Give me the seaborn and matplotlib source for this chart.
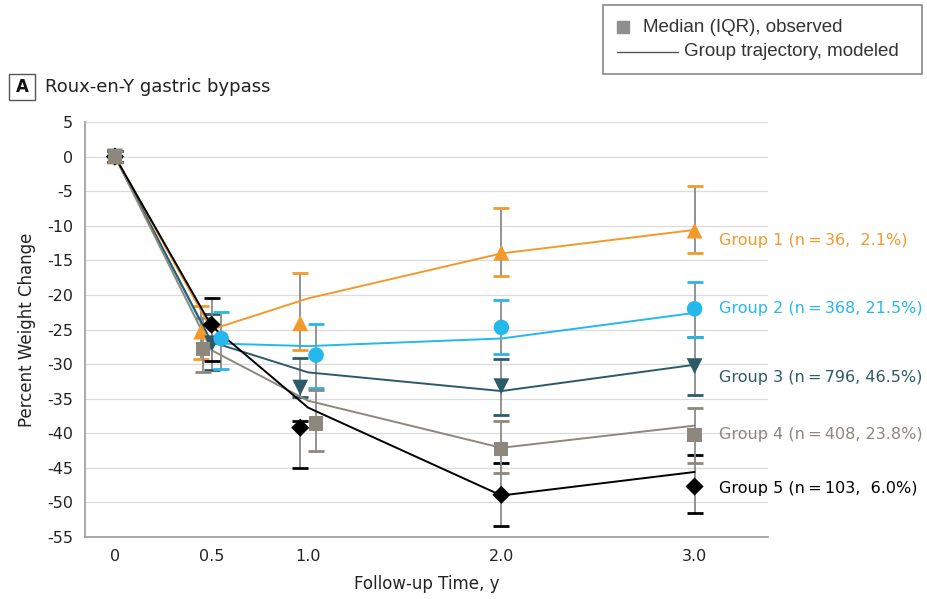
import matplotlib
matplotlib.use("Agg")
import matplotlib.pyplot as plt
import seaborn as sns
import pandas as pd
from matplotlib.patches import Rectangle
from matplotlib.lines import Line2D

# ---- data -------------------------------------------------------------
groups = ["Group 1", "Group 2", "Group 3", "Group 4", "Group 5"]
group_n = [36, 368, 796, 408, 103]
group_pct = [2.1, 21.5, 46.5, 23.8, 6.0]

obs_time = [0, 0.5, 1.0, 2.0, 3.0]
# observed medians and interquartile limits (upper / lower)
median_g1 = [0, -25.3, -24.1, -13.9, -10.7]
upper_g1 = [0.8, -21.6, -16.9, -7.4, -4.2]
lower_g1 = [-0.8, -29.3, -27.9, -17.3, -14.0]

median_g2 = [0, -26.3, -28.7, -24.7, -22.0]
upper_g2 = [0.8, -22.5, -24.2, -20.7, -18.1]
lower_g2 = [-0.8, -30.7, -33.5, -28.5, -26.1]

median_g3 = [0, -27.0, -33.4, -33.2, -30.3]
upper_g3 = [0.8, -22.8, -29.1, -29.3, -26.1]
lower_g3 = [-0.8, -30.8, -34.8, -37.4, -34.5]

median_g4 = [0, -27.8, -38.6, -42.3, -40.2]
upper_g4 = [0.8, -23.3, -33.8, -38.2, -36.3]
lower_g4 = [-0.8, -31.1, -42.6, -45.7, -44.3]

median_g5 = [0, -24.3, -39.2, -48.9, -47.7]
upper_g5 = [0.8, -20.5, -38.2, -44.3, -43.2]
lower_g5 = [-0.8, -29.5, -45.0, -53.4, -51.6]

# modeled group trajectories
model_time = [0, 0.5, 1.0, 2.0, 3.0]
model_g1 = [0, -25.0, -20.5, -14.0, -10.6]
model_g2 = [0, -27.0, -27.4, -26.3, -22.6]
model_g3 = [0, -26.8, -31.2, -33.9, -30.1]
model_g4 = [0, -28.0, -35.3, -42.1, -38.9]
model_g5 = [0, -24.5, -36.3, -49.0, -45.6]

x_ticks = [0, 0.5, 1.0, 1.5, 2.0, 2.5, 3.0]
x_ticklabels = ["0", "0.5", "1.0", "", "2.0", "", "3.0"]
y_ticks = list(range(-55, 10, 5))

# ---- styling ----------------------------------------------------------
sns.set_theme(style="white")
plt.rcParams["font.family"] = ["DejaVu Sans"]
plt.rcParams["axes.unicode_minus"] = False

colors = ["#F3992A", "#25B8EC", "#2D5A69", "#8E877D", "#000000"]
markers = ["^", "o", "v", "s", "D"]
msizes = [130, 125, 130, 105, 85]
palette = dict(zip(groups, colors))
marker_map = dict(zip(groups, markers))

# horizontal dodge of the observed summaries at each visit
dodge = {
    "Group 1": [0, -0.054, -0.041, 0, 0],
    "Group 2": [0, 0.050, 0.041, 0, 0],
    "Group 3": [0, 0.003, -0.041, 0, 0],
    "Group 4": [0, -0.044, 0.041, 0, 0],
    "Group 5": [0, 0.000, -0.041, 0, 0],
}

medians = [median_g1, median_g2, median_g3, median_g4, median_g5]
uppers = [upper_g1, upper_g2, upper_g3, upper_g4, upper_g5]
lowers = [lower_g1, lower_g2, lower_g3, lower_g4, lower_g5]
models = [model_g1, model_g2, model_g3, model_g4, model_g5]

model_df = pd.DataFrame(
    [(g, t, v) for g, m in zip(groups, models) for t, v in zip(model_time, m)],
    columns=["group", "time", "change"],
)
obs_rows = []
for g, med, up, lo in zip(groups, medians, uppers, lowers):
    for i, t in enumerate(obs_time):
        obs_rows.append((g, t + dodge[g][i], med[i], up[i], lo[i]))
obs_df = pd.DataFrame(obs_rows, columns=["group", "x", "median", "upper", "lower"])

# ---- figure -----------------------------------------------------------
W, H = 928, 599
fig = plt.figure(figsize=(W / 100, H / 100), dpi=100)
ax = fig.add_axes([85 / W, 1 - 537 / H, (768 - 85) / W, (537 - 122) / H])

ax.set_xlim(-0.155, 3.38)
ax.set_ylim(-55, 5)
for yv in y_ticks:
    ax.axhline(yv, color="#DCDCDC", lw=0.9, zorder=0)

# interquartile bars: gray stems with group-coloured caps
draw_order = ["Group 1", "Group 3", "Group 2", "Group 5", "Group 4"]
for g in draw_order:
    d = obs_df[obs_df.group == g]
    eb = ax.errorbar(
        d["x"], d["median"],
        yerr=[d["median"] - d["lower"], d["upper"] - d["median"]],
        fmt="none", ecolor="#8A8A8A", elinewidth=1.3, capsize=6,
        capthick=2.0, zorder=2,
    )
    for cl in eb[1]:
        cl.set_markeredgecolor(palette[g])
        cl.set_color(palette[g])

sns.lineplot(
    data=model_df, x="time", y="change", hue="group", palette=palette,
    estimator=None, sort=False, lw=1.4, legend=False, ax=ax, zorder=3,
)

for g in draw_order:
    d = obs_df[obs_df.group == g]
    sns.scatterplot(
        data=d, x="x", y="median", color=palette[g], marker=marker_map[g],
        s=msizes[groups.index(g)], edgecolor="none", legend=False, ax=ax,
        zorder=4,
    )

# group annotations at the right
label_y = [-12.1, -21.9, -32.0, -40.2, -48.0]
for g, n, p, c, ly in zip(groups, group_n, group_pct, colors, label_y):
    ax.text(3.125, ly, f"{g} (n\u2009=\u2009{n}, {p:>4.1f}%)",
            color=c, fontsize=11.5, va="center", ha="left", clip_on=False)

# axes cosmetics
for side in ["top", "right"]:
    ax.spines[side].set_visible(False)
for side in ["left", "bottom"]:
    ax.spines[side].set_color("#9A9A9A")
    ax.spines[side].set_linewidth(1.2)
ax.set_xticks(x_ticks)
ax.set_xticklabels(x_ticklabels)
ax.set_yticks(y_ticks)
ax.set_yticklabels([str(v) for v in y_ticks])
ax.tick_params(axis="both", direction="out", length=5, width=1,
               color="#9A9A9A", labelsize=11.5, labelcolor="#222222")
ax.set_xlabel("Follow-up Time, y", fontsize=12, color="#222222", labelpad=8)
ax.set_ylabel("Percent Weight Change", fontsize=12, color="#222222", labelpad=8)

# panel heading
fig.patches.append(Rectangle((9 / W, 1 - 100 / H), 26 / W, 26 / H,
                             transform=fig.transFigure, fill=False,
                             edgecolor="#555555", lw=1.0))
fig.text(22 / W, 1 - 87 / H, "A", fontsize=12, fontweight="bold",
         ha="center", va="center", color="#111111")
fig.text(45 / W, 1 - 87 / H, "Roux-en-Y gastric bypass", fontsize=13,
         ha="left", va="center", color="#222222")

# legend box
fig.patches.append(Rectangle((603 / W, 1 - 74 / H), 319 / W, 69 / H,
                             transform=fig.transFigure, fill=False,
                             edgecolor="#888888", lw=1.2))
fig.lines.append(Line2D([623 / W], [1 - 27 / H], transform=fig.transFigure,
                        marker="s", markersize=9, color="#8E8E8E", ls="none"))
fig.lines.append(Line2D([617 / W, 678 / W], [1 - 52 / H, 1 - 52 / H],
                        transform=fig.transFigure, color="#555555", lw=1.0))
fig.text(643 / W, 1 - 27 / H, "Median (IQR), observed", fontsize=13.5,
         family="Liberation Sans", ha="left", va="center", color="#333333")
fig.text(684 / W, 1 - 52 / H, "Group trajectory, modeled", fontsize=13.5,
         family="Liberation Sans", ha="left", va="center", color="#333333")

fig.savefig("out.png", dpi=100)
